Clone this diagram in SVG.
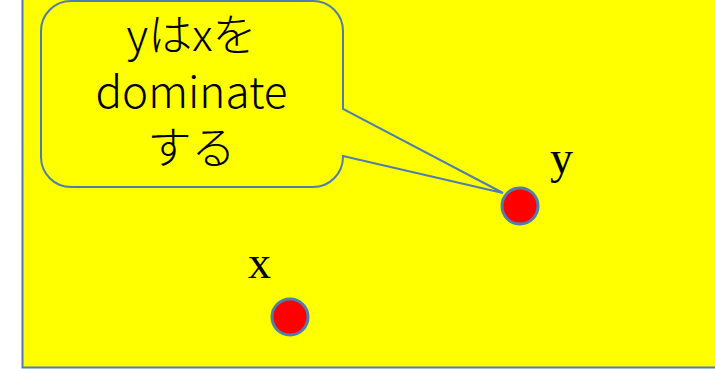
<svg xmlns="http://www.w3.org/2000/svg" width="715" height="369" viewBox="0 0 715 369">
  <style>
    .ln { stroke: #4F7DAD; stroke-width: 2; }
    .dot { fill: #FF0000; stroke: #4F7DAD; stroke-width: 3; }
    .lbl { font-family: "Liberation Serif", "Times New Roman", serif; font-size: 46px; fill: #000; text-anchor: middle; }
    .ct { font-family: "Noto Sans CJK JP", "Noto Sans", sans-serif; font-weight: 300; font-size: 44px; fill: #000; text-anchor: middle; }
  </style>
  <rect width="715" height="369" fill="#FFFFFF"/>
  <g id="background">
    <rect x="22.5" y="-5" width="720" height="372.5" fill="#FFFF00" class="ln"/>
  </g>
  <g id="callout">
    <path class="ln" fill="#FFFF00" d="M71,1 H313 A30,30 0 0 1 343,31 V109 L503,193 L343,156 V157 A30,30 0 0 1 313,187 H71 A30,30 0 0 1 41,157 V31 A30,30 0 0 1 71,1 Z"/>
    <text class="ct" x="191.5" y="51">yはxを</text>
    <text class="ct" x="191.5" y="108">dominate</text>
    <text class="ct" x="191.5" y="164">する</text>
  </g>
  <g id="node-y">
    <circle class="dot" cx="520" cy="206" r="18"/>
    <text class="lbl" x="561.5" y="173">y</text>
  </g>
  <g id="node-x">
    <circle class="dot" cx="290" cy="317" r="18"/>
    <text class="lbl" x="259.5" y="278">x</text>
  </g>
</svg>
